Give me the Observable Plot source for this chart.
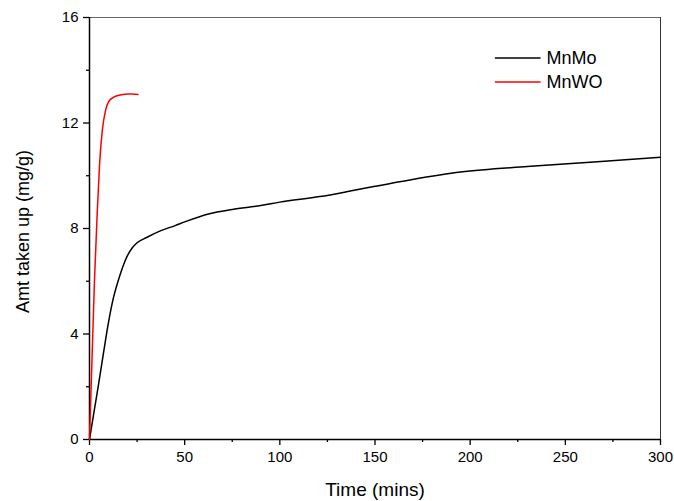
<!DOCTYPE html>
<html>
<head>
<meta charset="utf-8">
<script src="https://cdn.jsdelivr.net/npm/d3@7"></script>
<script src="https://cdn.jsdelivr.net/npm/@observablehq/plot@0.6"></script>
<style>
  html, body { margin: 0; padding: 0; background: #fff; }
  #chart svg { display: block; }
</style>
</head>
<body>
<div id="chart"></div>
<script>
// MnMo series (time in mins, amount taken up in mg/g)
const mnmoTime  = [0, 2.5, 5, 7.5, 10, 12.5, 15, 17.5, 20, 22.5, 25, 30, 37.5, 45, 50, 63, 75, 90, 100, 121, 137, 150, 169, 195, 230, 265, 300];
const mnmoValue = [0, 1.1, 2.2, 3.35, 4.45, 5.35, 6.0, 6.55, 6.98, 7.27, 7.46, 7.66, 7.92, 8.11, 8.25, 8.56, 8.72, 8.87, 9.0, 9.21, 9.42, 9.6, 9.85, 10.14, 10.35, 10.52, 10.7];
// MnWO series
const mnwoTime  = [0, 1.3, 2.6, 4, 5.3, 6.7, 8.4, 10, 12.5, 15, 17.5, 20, 22.5, 25.5];
const mnwoValue = [0, 3.0, 6.0, 8.5, 10.45, 11.7, 12.47, 12.8, 12.97, 13.04, 13.08, 13.1, 13.1, 13.08];

const seriesNames  = ["MnMo", "MnWO"];
const seriesColors = ["#000000", "#ff0000"];

const xMajorTicks = [0, 50, 100, 150, 200, 250, 300];
const xMinorTicks = [25, 75, 125, 175, 225, 275];
const yMajorTicks = [0, 4, 8, 12, 16];
const yMinorTicks = [2, 6, 10, 14];

const xTitle = "Time (mins)";
const yTitle = "Amt taken up (mg/g)";

const mnmo = mnmoTime.map((t, i) => ({t, v: mnmoValue[i]}));
const mnwo = mnwoTime.map((t, i) => ({t, v: mnwoValue[i]}));

// legend placement in data units
const legendItems = seriesNames.map((name, i) => ({name, color: seriesColors[i], x1: 213, x2: 237, y: 14.46 - i * 0.91}));

const font = "'Liberation Sans', Arial, sans-serif";

const plot = Plot.plot({
  width: 674,
  height: 501,
  marginLeft: 89,
  marginRight: 14,
  marginTop: 17,
  marginBottom: 62,
  style: {fontFamily: font, background: "#fff", color: "#000"},
  x: {domain: [0, 300], label: null},
  y: {domain: [0, 16], label: null},
  marks: [
    // top/right frame lines
    Plot.ruleY([16], {stroke: "#666", strokeWidth: 1}),
    Plot.ruleX([300], {stroke: "#333", strokeWidth: 1}),
    // axes
    Plot.axisX({ticks: xMinorTicks, tickSize: 3, text: null, strokeWidth: 1.3}),
    Plot.axisX({ticks: xMajorTicks, tickSize: 6, tickPadding: 6, fontSize: 15, strokeWidth: 1.3, label: null}),
    Plot.axisY({ticks: yMinorTicks, tickSize: 3, text: null, strokeWidth: 1.3}),
    Plot.axisY({ticks: yMajorTicks, tickSize: 6, tickPadding: 5, fontSize: 15, strokeWidth: 1.3, label: null}),
    Plot.ruleY([0], {stroke: "#000", strokeWidth: 1.5}),
    Plot.ruleX([0], {stroke: "#000", strokeWidth: 1.5}),
    // data
    Plot.line(mnmo, {x: "t", y: "v", stroke: seriesColors[0], strokeWidth: 1.5, curve: "monotone-x"}),
    Plot.line(mnwo, {x: "t", y: "v", stroke: seriesColors[1], strokeWidth: 1.5, curve: "monotone-x"}),
    // legend
    Plot.link(legendItems, {x1: "x1", x2: "x2", y1: "y", y2: "y", stroke: "color", strokeWidth: 1.5}),
    Plot.text(legendItems, {x: "x2", y: "y", text: "name", textAnchor: "start", dx: 6, fontSize: 18, fill: "#000"}),
    // axis titles
    Plot.text([xTitle], {frameAnchor: "bottom", textAnchor: "middle", lineAnchor: "middle", dy: 50, fontSize: 19, fill: "#000"}),
    Plot.text([yTitle], {frameAnchor: "left", textAnchor: "middle", lineAnchor: "middle", dx: -66, dy: 3, rotate: -90, fontSize: 18, fill: "#000"})
  ]
});

document.getElementById("chart").appendChild(plot);
</script>
</body>
</html>
